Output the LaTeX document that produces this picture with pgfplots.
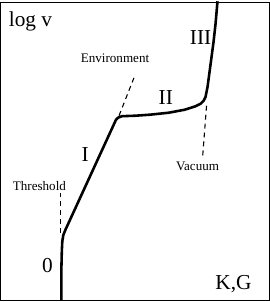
\documentclass[border=0pt]{standalone}
\usepackage{pgfplots}
\pgfplotsset{compat=1.18}
\usepackage{fontspec}
\setmainfont{Liberation Serif}
\begin{document}
\begin{tikzpicture}
\begin{axis}[
  width=270bp, height=300bp, scale only axis,
  xmin=0, xmax=270, ymin=0, ymax=300, y dir=reverse,
  xtick=\empty, ytick=\empty,
  axis line style={line width=1.3pt},
  clip=false,
]
\addplot[black, line width=2.6pt, line join=round] coordinates {
(61,300) (61,270) (61.5,250) (62,240) (63,234) (65,229)
(116,118) (118,116) (122,114.5) (136,114) (150,113) (169,111)
(185,108) (196,104.5) (201,102) (204,99) (206,95)
(208,85) (210,70) (212,55) (214,40) (216,22) (218,-1)
};
\addplot[black, line width=1.1pt, dash pattern=on 5bp off 4bp] coordinates {(119,114) (134,76)};
\addplot[black, line width=1.1pt, dash pattern=on 5bp off 4bp] coordinates {(60,232) (60,192)};
\addplot[black, line width=1.1pt, dash pattern=on 5bp off 4bp] coordinates {(207,104) (203,156)};
\node[font=\fontsize{21.5}{21.5}\selectfont] at (axis cs:30,19) {log v};
\node[font=\fontsize{21.5}{21.5}\selectfont] at (axis cs:234,283) {K,G};
\node[font=\fontsize{21.5}{21.5}\selectfont] at (axis cs:85,153) {I};
\node[font=\fontsize{21.5}{21.5}\selectfont] at (axis cs:166,96) {II};
\node[font=\fontsize{21.5}{21.5}\selectfont] at (axis cs:201,35) {III};
\node[font=\fontsize{21.5}{21.5}\selectfont] at (axis cs:47,265) {0};
\node[font=\fontsize{13.2}{13.2}\selectfont] at (axis cs:115,56) {Environment};
\node[font=\fontsize{13.2}{13.2}\selectfont] at (axis cs:39,185) {Threshold};
\node[font=\fontsize{13.2}{13.2}\selectfont] at (axis cs:198,165) {Vacuum};
\end{axis}
\end{tikzpicture}
\end{document}
